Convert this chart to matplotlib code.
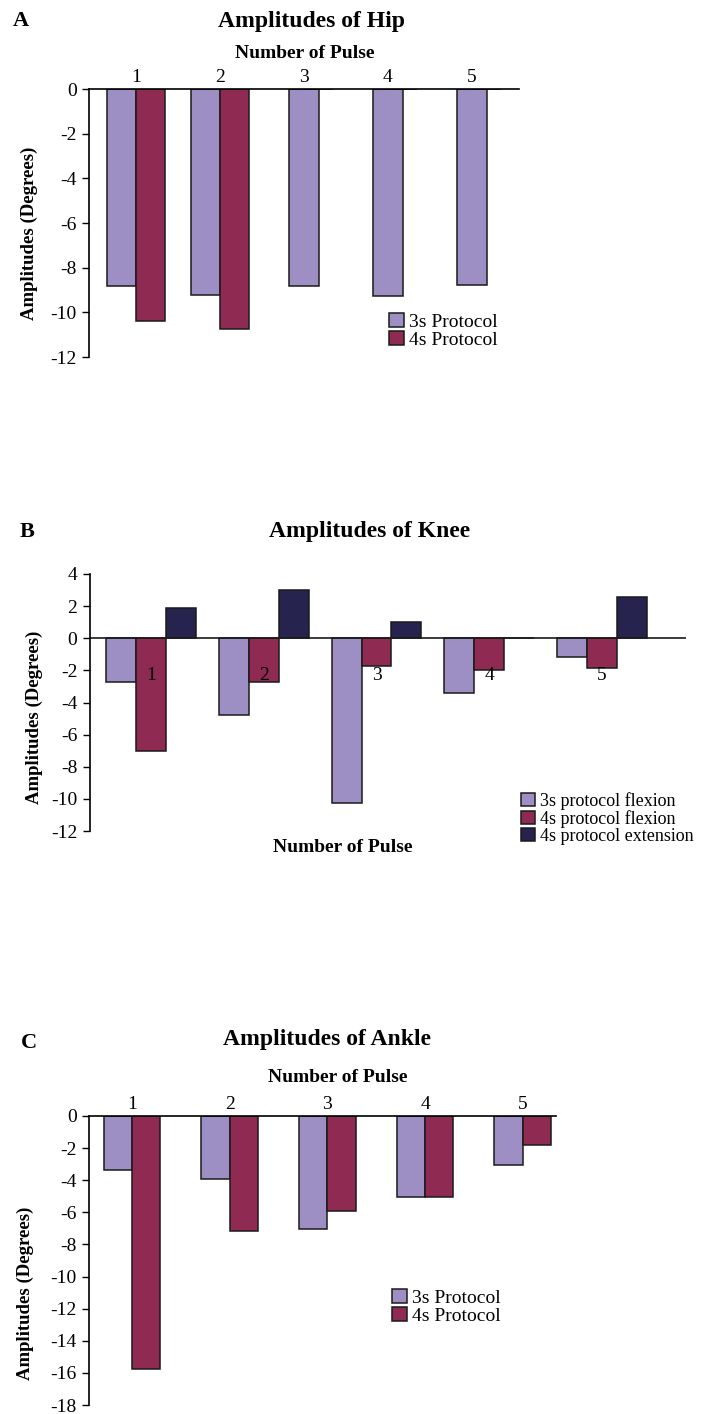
import numpy as np
import matplotlib
matplotlib.use("Agg")
import matplotlib.pyplot as plt
from matplotlib.patches import Patch

plt.rcParams['font.family'] = ['Liberation Serif', 'DejaVu Serif']
plt.rcParams['axes.unicode_minus'] = False

# data
pulses = ['1', '2', '3', '4', '5']
hip_3s = [-8.84, -9.21, -8.84, -9.27, -8.76]
hip_4s = [-10.37, -10.75, np.nan, np.nan, np.nan]
knee_3s_flex = [-2.74, -4.77, -10.26, -3.42, -1.16]
knee_4s_flex = [-7.0, -2.74, -1.74, -1.97, -1.87]
knee_4s_ext = [1.91, 3.0, 0.99, 0.0, 2.55]
ankle_3s = [-3.38, -3.90, -7.03, -5.04, -3.03]
ankle_4s = [-15.74, -7.15, -5.89, -5.04, -1.78]

protocol_labels = ['3s Protocol', '4s Protocol']
knee_labels = ['3s protocol flexion', '4s protocol flexion', '4s protocol extension']

C3 = '#9d8fc3'
C4 = '#8f2a52'
CEXT = '#27234f'

W, H = 706, 1414
fig = plt.figure(figsize=(W / 100, H / 100), dpi=100)
edge = dict(edgecolor='#1a1a1a', linewidth=1.1)


def px_axes(left, top, right, bottom):
    return fig.add_axes([left / W, 1 - bottom / H, (right - left) / W, (bottom - top) / H])


def ftext(x, y, s, **kw):
    fig.text(x / W, 1 - y / H, s, **kw)


def style_y(ax):
    for s in ['right', 'bottom']:
        ax.spines[s].set_visible(False)
    ax.spines['left'].set_linewidth(1.2)
    ax.tick_params(axis='y', direction='out', length=5, width=1, labelsize=14, pad=4)


def top_categories(ax):
    ax.spines['top'].set_linewidth(1.2)
    ax.xaxis.tick_top()
    ax.set_xticks(x)
    ax.set_xticklabels(pulses)
    ax.tick_params(axis='x', length=0, labelsize=14, pad=2)


def legend(ax, colors, labels, lx, ty, size):
    handles = [Patch(facecolor=c, **edge) for c in colors]
    ax.legend(handles=handles, labels=labels, loc='upper left',
              bbox_to_anchor=(lx / W, 1 - ty / H), bbox_transform=fig.transFigure,
              frameon=False, fontsize=size, borderpad=0, handlelength=0.75,
              handleheight=0.75, handletextpad=0.3, labelspacing=0.0, borderaxespad=0)


def headings(letter, lpos, title, tpos, xlab, xpos, ypos):
    ftext(*lpos, letter, fontsize=16, fontweight='bold', ha='center', va='center')
    ftext(*tpos, title, fontsize=17, fontweight='bold', ha='center', va='center')
    ftext(*xpos, 'Number of Pulse', fontsize=14, fontweight='bold', ha='center', va='center')
    ftext(*ypos, 'Amplitudes (Degrees)', fontsize=13.5, fontweight='bold', ha='center',
          va='center', rotation=90)


x = np.arange(1, len(pulses) + 1)

# ---------------- A: hip ----------------
ax = px_axes(89, 89, 519, 357)
w = 0.35
h4 = np.array(hip_4s)
pos3 = np.where(np.isnan(h4), x, x - w / 2)   # lone bars sit on the category
ax.bar(pos3, hip_3s, w, color=C3, **edge)
ax.bar(x + w / 2, np.nan_to_num(h4), w, color=C4, **edge)
ax.set_xlim(0.44, 5.56)
ax.set_ylim(-12, 0)
ax.set_yticks(np.arange(-12, 1, 2))
style_y(ax)
top_categories(ax)
legend(ax, [C3, C4], protocol_labels, 389, 313, 14)
headings('A', (21, 21), 'Amplitudes of Hip', (312, 21), None, (305, 53), (29, 233))

# ---------------- B: knee ----------------
ax = px_axes(90, 574, 686, 831)
w = 0.266
ax.bar(x - w, knee_3s_flex, w, color=C3, **edge)
ax.bar(x, knee_4s_flex, w, color=C4, **edge)
ax.bar(x + w, knee_4s_ext, w, color=CEXT, **edge)
ax.set_xlim(0.459, 5.745)
ax.set_ylim(-12, 4)
ax.set_yticks(np.arange(-12, 5, 2))
style_y(ax)
ax.spines['top'].set_visible(False)
ax.axhline(0, color='#1a1a1a', linewidth=1.2)
ax.set_xticks([])
for xi, lab in zip(x, pulses):
    ax.text(xi, -2.3, lab, fontsize=14, ha='center', va='center')
legend(ax, [C3, C4, CEXT], knee_labels, 521, 792, 13)
headings('B', (27, 532), 'Amplitudes of Knee', (370, 532), None, (343, 848), (34, 717))

# ---------------- C: ankle ----------------
ax = px_axes(89, 1116, 556, 1405)
w = 0.29
ax.bar(x - w / 2, ankle_3s, w, color=C3, **edge)
ax.bar(x + w / 2, ankle_4s, w, color=C4, **edge)
ax.set_xlim(0.56, 5.34)
ax.set_ylim(-18, 0)
ax.set_yticks(np.arange(-18, 1, 2))
style_y(ax)
top_categories(ax)
legend(ax, [C3, C4], protocol_labels, 392, 1289, 14)
headings('C', (29, 1043), 'Amplitudes of Ankle', (327, 1040), None, (338, 1078), (25, 1293))

fig.savefig('out.png', dpi=100, facecolor='white')
